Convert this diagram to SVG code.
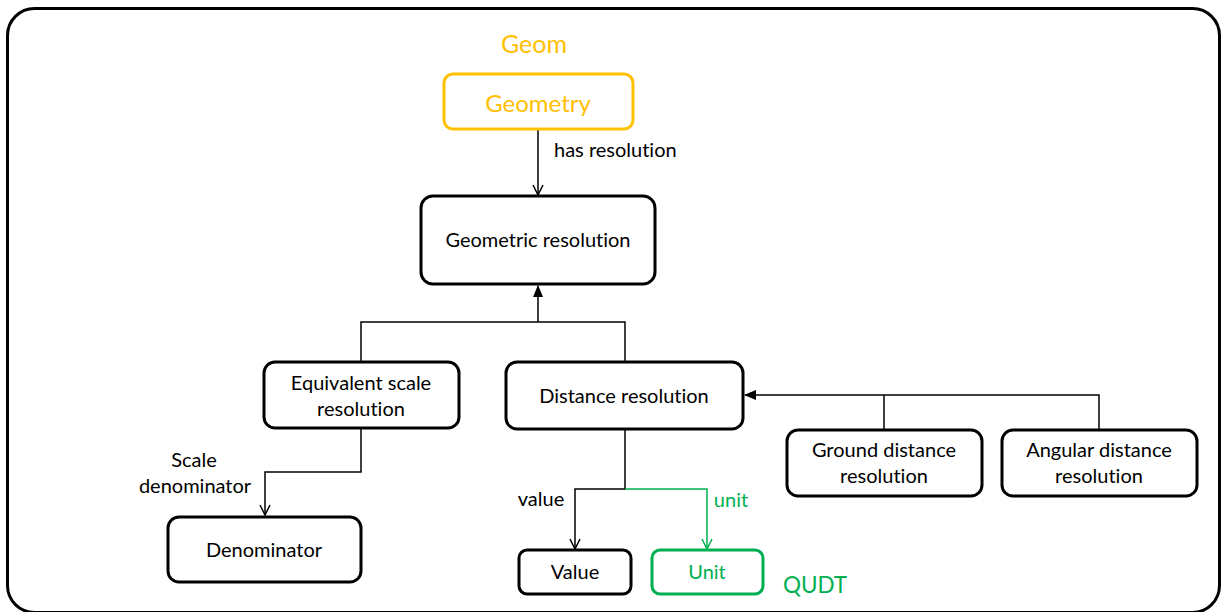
<svg xmlns="http://www.w3.org/2000/svg" width="1223" height="612" viewBox="0 0 1223 612">
<defs>
<style>
.box{fill:#fff;stroke:#000;stroke-width:3}
.geo{fill:#fff;stroke:#FFC000;stroke-width:3}
.qudt{fill:#fff;stroke:#00B050;stroke-width:3}
text{font-family:Lato,"Open Sans","Liberation Sans",sans-serif;font-size:20px;fill:#000;text-anchor:middle;dominant-baseline:central;font-variant-ligatures:none}
.or{fill:#FFC000}
.gr{fill:#00B050}
.lbl{text-anchor:start}
.ln{fill:none;stroke:#000;stroke-width:1.5}
.lng{fill:none;stroke:#00B050;stroke-width:1.5}
</style>
<marker id="open" viewBox="0 0 12 12" refX="11" refY="6" markerWidth="12" markerHeight="12" markerUnits="userSpaceOnUse" orient="auto">
<path d="M1,1 L11,6 L1,11" fill="none" stroke="#000" stroke-width="1.5"/>
</marker>
<marker id="openg" viewBox="0 0 12 12" refX="11" refY="6" markerWidth="12" markerHeight="12" markerUnits="userSpaceOnUse" orient="auto">
<path d="M1,1 L11,6 L1,11" fill="none" stroke="#00B050" stroke-width="1.5"/>
</marker>
<marker id="fill" viewBox="0 0 12 12" refX="11" refY="6" markerWidth="12" markerHeight="12" markerUnits="userSpaceOnUse" orient="auto">
<path d="M0,1 L12,6 L0,11 Z" fill="#000"/>
</marker>
</defs>
<rect x="7.5" y="8.5" width="1212" height="604" rx="27" fill="#fff" stroke="#000" stroke-width="3"/>
<g id="connectors">
<path class="ln" d="M538,129 V195" marker-end="url(#open)"/>
<path class="ln" d="M361,362 V322 H625 V362 M538,322 V286" marker-end="url(#fill)"/>
<path class="ln" d="M884,430 V395 M1099,430 V395 H745" marker-end="url(#fill)"/>
<path class="ln" d="M361,428 V472 H265 V515" marker-end="url(#open)"/>
<path class="ln" d="M625,429 V489 H575 V549" marker-end="url(#open)"/>
<path class="lng" d="M625,489 H707 V549" marker-end="url(#openg)"/>
<text class="lbl" x="554" y="149">has resolution</text>
<text x="194" y="459">Scale</text>
<text x="195" y="485">denominator</text>
<text x="541" y="498">value</text>
<text class="gr" x="731" y="499">unit</text>
</g>
<g id="geom-label"><text class="or" x="534" y="43" style="font-size:25px">Geom</text></g>
<g id="qudt-label"><text class="gr" x="815" y="584" style="font-size:22.5px">QUDT</text></g>
<g id="geometry"><rect class="geo" x="444" y="74" width="189" height="55" rx="9"/><text class="or" x="538" y="102" style="font-size:24px">Geometry</text></g>
<g id="geometric-resolution"><rect class="box" x="421" y="196" width="234" height="88" rx="12"/><text x="538" y="239">Geometric resolution</text></g>
<g id="equivalent-scale"><rect class="box" x="264" y="362" width="195" height="66" rx="11"/><text x="361" y="382">Equivalent scale</text><text x="361" y="408">resolution</text></g>
<g id="distance-resolution"><rect class="box" x="506" y="362" width="237" height="67" rx="11"/><text x="624" y="395">Distance resolution</text></g>
<g id="denominator"><rect class="box" x="168" y="517" width="193" height="65" rx="11"/><text x="264" y="549">Denominator</text></g>
<g id="value"><rect class="box" x="519" y="550" width="112" height="44" rx="8"/><text x="575" y="571">Value</text></g>
<g id="unit"><rect class="qudt" x="652" y="550" width="111" height="44" rx="8"/><text class="gr" x="707" y="571">Unit</text></g>
<g id="ground-distance"><rect class="box" x="787" y="430" width="195" height="66" rx="11"/><text x="884" y="449">Ground distance</text><text x="884" y="475">resolution</text></g>
<g id="angular-distance"><rect class="box" x="1002" y="430" width="195" height="66" rx="11"/><text x="1099" y="449">Angular distance</text><text x="1099" y="475">resolution</text></g>
</svg>
